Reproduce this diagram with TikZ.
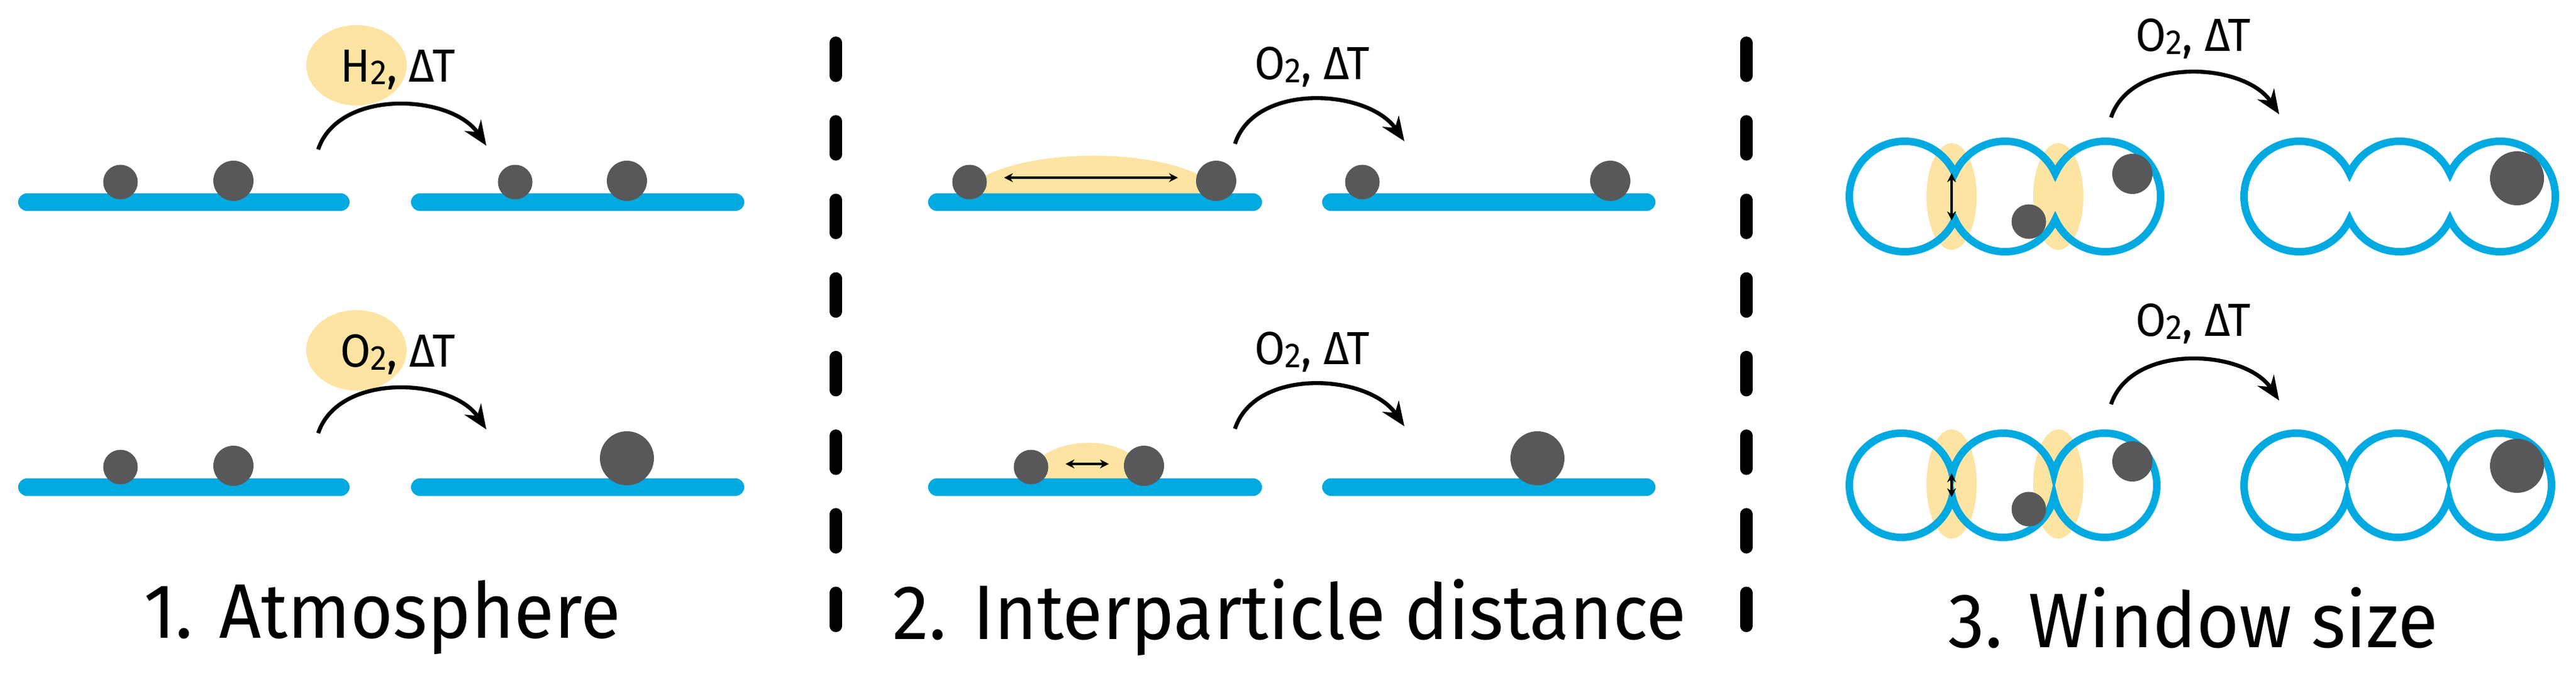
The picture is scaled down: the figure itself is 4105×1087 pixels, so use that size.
\documentclass[tikz,border=0pt]{standalone}
\usepackage{fontspec}
\setmainfont{Fira Sans}[FakeStretch=0.95]
\usetikzlibrary{arrows.meta}
\definecolor{sio}{RGB}{0,169,224}
\definecolor{pt}{RGB}{88,88,90}
\definecolor{hl}{RGB}{253,228,163}
\tikzset{
  bar/.style={draw=sio, line width=8pt, line cap=round},
  pore/.style={draw=sio, line width=3.4pt},
  ps/.style={circle, fill=pt, inner sep=0pt, minimum size=0.55cm},
  pm/.style={circle, fill=pt, inner sep=0pt, minimum size=0.64cm},
  pl/.style={circle, fill=pt, inner sep=0pt, minimum size=0.86cm},
  react/.style={line width=1.8pt, -{Stealth[length=11pt,width=9pt]}},
  dist/.style={line width=1.1pt, {Stealth[length=4pt,width=4pt]}-{Stealth[length=4pt,width=4pt]}},
  sep/.style={line width=5.6pt, line cap=round, dash pattern=on 15pt off 20.6pt},
  lab/.style={font=\fontsize{21pt}{24pt}\selectfont, inner sep=0pt},
  ttl/.style={font=\fontsize{35pt}{40pt}\selectfont, inner sep=0pt},
}
\newcommand\poreChain[5]{% x of first centre, y, spacing, radius, angle
  \draw[pore] (#1,#2) ++(#5:#4)
    arc[start angle=#5, end angle={360-#5}, radius=#4]
    arc[start angle={180+#5}, end angle={360-#5}, radius=#4]
    arc[start angle={180+#5}, end angle={540-#5}, radius=#4]
    arc[start angle=#5, end angle={180-#5}, radius=#4] -- cycle;}
\newcommand\two{\raisebox{-0.12ex}{\scalebox{0.75}{2}}}
\begin{document}
\begin{tikzpicture}[x=0.01cm,y=-0.01cm]
\useasboundingbox (0,0) rectangle (4105,1087);
% separators
\coordinate (s1a) at (1332,68); \coordinate (s1b) at (1332,1000);
\coordinate (s2a) at (2783,68); \coordinate (s2b) at (2783,1000);
\draw[sep] (s1a) -- (s1b);
\draw[sep] (s2a) -- (s2b);

% ===== Panel 1 =====
\fill[hl] (568,104) ellipse [x radius=80, y radius=64];
\node[lab] (l1a) at (634,111) {H\two, ΔT};
\coordinate (b1a) at (43,322); \coordinate (b1b) at (543,322);
\coordinate (b1c) at (669,322); \coordinate (b1d) at (1172,322);
\draw[bar] (b1a) -- (b1b); \draw[bar] (b1c) -- (b1d);
\node[ps] (p1a) at (192,290) {}; \node[pm] (p1b) at (372,288) {};
\node[ps] (p1c) at (821,290) {}; \node[pm] (p1d) at (999,288) {};
\coordinate (r1s) at (507,238); \coordinate (r1e) at (775,232);
\draw[react] (r1s) .. controls (540,140) and (720,150) .. (r1e);

\fill[hl] (568,558) ellipse [x radius=80, y radius=64];
\node[lab] (l1b) at (634,565) {O\two, ΔT};
\coordinate (b1e) at (43,776); \coordinate (b1f) at (543,776);
\coordinate (b1g) at (669,776); \coordinate (b1h) at (1172,776);
\draw[bar] (b1e) -- (b1f); \draw[bar] (b1g) -- (b1h);
\node[ps] (p1e) at (192,744) {}; \node[pm] (p1f) at (372,742) {};
\node[pl] (p1g) at (999,730) {};
\coordinate (r1t) at (507,690); \coordinate (r1f) at (775,684);
\draw[react] (r1t) .. controls (540,592) and (720,602) .. (r1f);
\node[ttl] (t1) at (609,984) {1. Atmosphere};

% ===== Panel 2 =====
\node[lab] (l2a) at (2091,107) {O\two, ΔT};
\fill[hl] (1545,322) -- (1545,296) .. controls (1620,232) and (1865,232) .. (1938,296) -- (1938,322) -- cycle;
\coordinate (b2a) at (1493,322); \coordinate (b2b) at (1997,322);
\coordinate (b2c) at (2121,322); \coordinate (b2d) at (2624,322);
\draw[bar] (b2a) -- (b2b); \draw[bar] (b2c) -- (b2d);
\node[ps] (p2a) at (1545,290) {}; \node[pm] (p2b) at (1938,288) {};
\node[ps] (p2c) at (2171,290) {}; \node[pm] (p2d) at (2566,288) {};
\coordinate (d2a) at (1600,283); \coordinate (d2b) at (1877,283);
\draw[dist] (d2a) -- (d2b);
\coordinate (r2s) at (1968,229); \coordinate (r2e) at (2238,225);
\draw[react] (r2s) .. controls (2000,131) and (2180,141) .. (r2e);

\node[lab] (l2b) at (2091,561) {O\two, ΔT};
\fill[hl] (1643,776) -- (1643,745) .. controls (1680,692) and (1790,692) .. (1823,745) -- (1823,776) -- cycle;
\coordinate (b2e) at (1493,776); \coordinate (b2f) at (1997,776);
\coordinate (b2g) at (2121,776); \coordinate (b2h) at (2624,776);
\draw[bar] (b2e) -- (b2f); \draw[bar] (b2g) -- (b2h);
\node[ps] (p2e) at (1643,744) {}; \node[pm] (p2f) at (1823,742) {};
\node[pl] (p2g) at (2450,730) {};
\coordinate (d2c) at (1698,739); \coordinate (d2d) at (1767,739);
\draw[dist] (d2c) -- (d2d);
\coordinate (r2t) at (1968,683); \coordinate (r2f) at (2238,679);
\draw[react] (r2t) .. controls (2000,585) and (2180,595) .. (r2f);
\node[ttl] (t2) at (2055,984) {2. Interparticle distance};

% ===== Panel 3 =====
\node[lab] (l3a) at (3495,62) {O\two, ΔT};
\fill[hl] (3110,313) ellipse [x radius=40, y radius=85];
\fill[hl] (3280,313) ellipse [x radius=40, y radius=85];
\poreChain{3035}{313}{160}{88}{24.6}
\poreChain{3664}{313}{160}{88}{24.6}
\node[pm] (p3a) at (3398,277) {};
\node[ps] (p3b) at (3233,353) {};
\node[pl] (p3c) at (4011,284) {};
\coordinate (d3a) at (3110,276); \coordinate (d3b) at (3110,351);
\draw[dist] (d3a) -- (d3b);
\coordinate (r3s) at (3364,187); \coordinate (r3e) at (3632,182);
\draw[react] (r3s) .. controls (3397,89) and (3577,99) .. (r3e);

\node[lab] (l3b) at (3495,516) {O\two, ΔT};
\fill[hl] (3110,771) ellipse [x radius=40, y radius=87];
\fill[hl] (3280,771) ellipse [x radius=40, y radius=87];
\poreChain{3030}{773}{162}{83}{12.6}
\poreChain{3659}{773}{162}{83}{12.6}
\node[pm] (p3d) at (3398,735) {};
\node[ps] (p3e) at (3233,811) {};
\node[pl] (p3f) at (4011,742) {};
\coordinate (d3c) at (3110,754); \coordinate (d3d) at (3110,792);
\draw[dist] (d3c) -- (d3d);
\coordinate (r3t) at (3364,644); \coordinate (r3f) at (3632,638);
\draw[react] (r3t) .. controls (3397,546) and (3577,556) .. (r3f);
\node[ttl] (t3) at (3495,984) {3. Window size};
\end{tikzpicture}
\end{document}
